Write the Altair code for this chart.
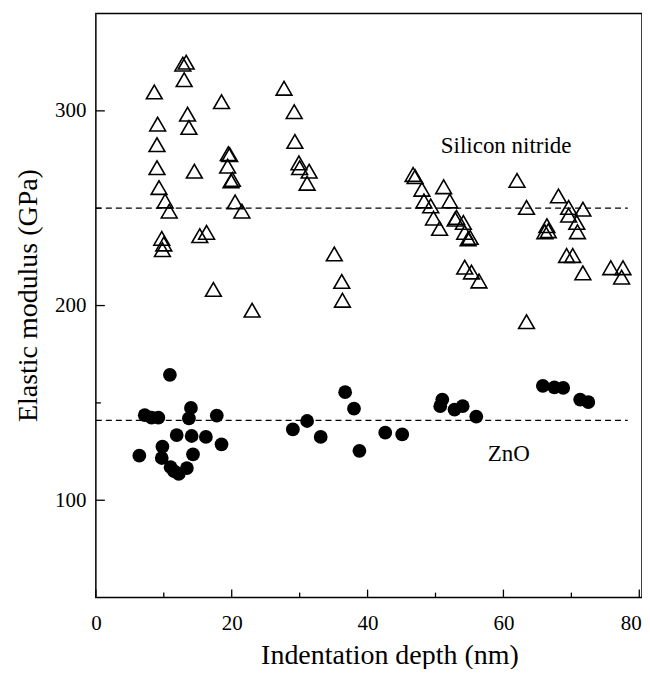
import altair as alt
import pandas as pd

# Silicon nitride (open triangles)
si_x = [13.3, 12.8, 13.0, 8.6, 18.5, 13.5, 13.7, 9.1, 9.0, 9.0, 14.5, 19.5, 19.7,
        19.4, 20.1, 19.9, 9.3, 10.2, 10.8, 20.5, 21.5, 9.7, 10.0, 9.8, 15.3, 16.3,
        17.3, 23.0,
        27.7, 29.2, 29.3, 29.9, 30.0, 31.4, 31.1, 35.1, 36.2, 36.3,
        46.7, 47.0, 48.0, 51.2, 48.3, 49.3, 52.1, 49.7, 50.6, 52.9, 53.1, 54.1,
        54.3, 54.8, 55.1, 54.3, 55.3, 56.4, 62.0, 63.4, 63.4, 66.4, 66.6, 66.1,
        68.1, 69.6, 69.6, 71.7, 70.8, 70.9, 69.3, 70.2, 71.7, 75.8, 77.6, 77.4]
si_y = [325, 324, 316, 309.7, 304.7, 298.3, 291.5, 293.2, 282.6, 270.8, 269, 278, 277.5,
        271.6, 264.8, 264, 260.6, 253.7, 248.5, 253.2, 248.5, 234.5, 231.6, 228.7, 235.9, 237.6,
        208.3, 197.6,
        311.6, 299.6, 284.3, 273.3, 270.8, 269, 262.8, 226.5, 212.4, 202.7,
        267.3, 266.2, 259.7, 261, 253.7, 251.2, 253.7, 244.9, 239.6, 244.4, 245.3, 242.7,
        237.6, 234.2, 235, 219.7, 217.2, 212.6, 264.3, 250.4, 191.7, 241, 238.4, 237.9,
        256.3, 250.4, 246.4, 249.5, 242.7, 237.9, 225.7, 225.7, 216.8, 219.4, 219.4, 214.6]

# ZnO (filled circles)
zn_x = [10.9, 7.2, 8.2, 9.2, 14.0, 13.7, 17.8, 11.9, 14.1, 16.2, 18.5, 9.8, 6.4, 9.7,
        14.3, 11.0, 11.5, 12.2, 13.4,
        29.0, 31.1, 33.1, 36.7, 38.0, 38.8, 42.6, 45.1, 51.0, 50.7, 52.8, 54.0, 56.0,
        65.8, 67.5, 68.8, 71.3, 72.5]
zn_y = [164.4, 143.7, 142.4, 142.4, 147.4, 142, 143.5, 133.5, 133, 132.5, 128.7, 127.6, 122.9, 121.7,
        123.6, 117, 115, 113.5, 116.5,
        136.4, 140.7, 132.5, 155.5, 147, 125.4, 134.7, 133.8, 151.7, 148.3, 146.6, 148.3, 143,
        158.8, 158, 157.7, 151.7, 150.4]

# Mean lines
mean_vals = [250, 141]
mean_x0 = [0, 0]
mean_x1 = [78.3, 78.3]

# Labels
lab_text = ["Silicon nitride", "ZnO"]
lab_x = [60.4, 60.8]
lab_y = [278.6, 120.4]

x_major = [0, 20, 40, 60, 80]
x_minor = [10, 30, 50, 70]
y_major = [100, 200, 300]
y_minor = [150, 250]

W, H = 547, 585
FONT = "Liberation Serif, Times New Roman, DejaVu Serif, serif"

xs = alt.Scale(domain=[0, 80.4], nice=False, zero=False)
ys = alt.Scale(domain=[50, 350], nice=False, zero=False)

si = pd.DataFrame({"x": si_x, "y": si_y})
zn = pd.DataFrame({"x": zn_x, "y": zn_y})
means = pd.DataFrame({"y": mean_vals, "x0": mean_x0, "x1": mean_x1})
labs = pd.DataFrame({"t": lab_text, "x": lab_x, "y": lab_y})

base_x = alt.X("x:Q", scale=xs, title="Indentation depth (nm)",
               axis=alt.Axis(values=x_major, format="d",
                             labelAlign={"condition": {"test": "datum.value == 80", "value": "right"},
                                         "value": "center"},
                             labelOffset={"condition": {"test": "datum.value == 80", "value": 2},
                                          "value": 0}))
base_y = alt.Y("y:Q", scale=ys, title="Elastic modulus (GPa)",
               axis=alt.Axis(values=y_major, format="d"))

tri = alt.Chart(si).mark_point(shape="triangle-up", filled=False, stroke="black",
                               strokeWidth=1.6, size=250, opacity=1).encode(x=base_x, y=base_y)
dots = alt.Chart(zn).mark_circle(color="black", size=190, opacity=1).encode(x="x:Q", y="y:Q")

lines = alt.Chart(means).mark_rule(color="black", strokeWidth=1.2, strokeDash=[6, 4]).encode(
    x="x0:Q", x2="x1:Q", y="y:Q")

texts = alt.Chart(labs).mark_text(font=FONT, fontSize=23, color="black", align="center",
                                  baseline="alphabetic").encode(x="x:Q", y="y:Q", text="t:N")

def xticks(vals, L):
    return alt.Chart(pd.DataFrame({"x": vals})).mark_rule(color="black", strokeWidth=1.3).encode(
        x="x:Q", y=alt.value(H), y2=alt.value(H - L))

def yticks(vals, L):
    return alt.Chart(pd.DataFrame({"y": vals})).mark_rule(color="black", strokeWidth=1.3).encode(
        y="y:Q", x=alt.value(0), x2=alt.value(L))

chart = alt.layer(
    tri, dots, lines, texts,
    xticks(x_major, 8), xticks(x_minor, 5), yticks(y_major, 9), yticks(y_minor, 5)
).properties(
    width=W, height=H,
    autosize=alt.AutoSizeParams(type="none"),
    padding={"left": 88, "top": 5, "right": 0, "bottom": 71},
).configure_view(
    stroke="black", strokeWidth=1.5
).configure_axis(
    grid=False, ticks=False, domain=False,
    labelFont=FONT, labelFontSize=21, labelColor="black",
    titleFont=FONT, titleFontSize=28, titleFontWeight="normal", titleColor="black",
).configure_axisX(
    labelPadding=15, titleBaseline="alphabetic", titleY=66, titleX=294
).configure_axisY(
    labelPadding=10, titlePadding=12, titleY=282
)

chart.save("out.html", embed_options={"renderer": "svg", "actions": False})
